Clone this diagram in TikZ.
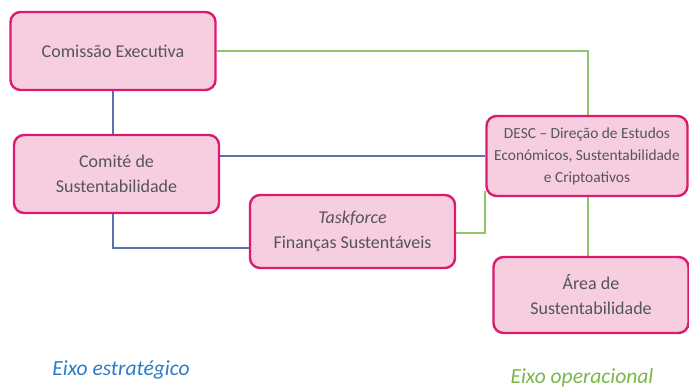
\documentclass[tikz,border=0pt]{standalone}
\usepackage{fontspec}
\setmainfont{Carlito}
\pgfdeclarelayer{bg}
\pgfsetlayers{bg,main}
\definecolor{boxfill}{HTML}{F6CEE0}
\definecolor{boxline}{HTML}{DC1A6E}
\definecolor{txt}{HTML}{555555}
\definecolor{blueline}{HTML}{5A74AE}
\definecolor{greenline}{HTML}{8CC66A}
\definecolor{bluetxt}{HTML}{2B7BC9}
\definecolor{greentxt}{HTML}{7AB648}
\tikzset{
  orgbox/.style={draw=boxline, fill=boxfill, line width=2.4pt, rounded corners=10pt,
    align=center, text=txt, font=\fontsize{18}{25}\selectfont, inner sep=2pt},
  bconn/.style={draw=blueline, line width=2pt},
  gconn/.style={draw=greenline, line width=2pt},
}
\begin{document}
\begin{tikzpicture}[x=1pt,y=-1pt]
\useasboundingbox (0,0) rectangle (689,390);
\node[orgbox, minimum width=205pt, minimum height=78pt] (ce) at (113,51) {Comissão Executiva};
\node[orgbox, minimum width=205pt, minimum height=78pt] (cs) at (116.5,174) {Comité de\\Sustentabilidade};
\node[orgbox, minimum width=205pt, minimum height=73pt] (tf) at (352.5,231.5) {\textit{Taskforce}\\Finanças Sustentáveis};
\node[orgbox, minimum width=201pt, minimum height=80pt, font=\fontsize{15.4}{22}\selectfont] (desc) at (587,156) {DESC -- Direção de Estudos\\Económicos, Sustentabilidade\\e Criptoativos};
\node[orgbox, minimum width=195pt, minimum height=76pt] (area) at (591,295) {Área de\\Sustentabilidade};
\begin{pgfonlayer}{bg}
\draw[bconn] (ce.south) -- (ce.south |- cs.north);
\draw[bconn] (ce.south |- cs.south) |- (tf.west |- 0,248) ;
\draw[bconn] (cs.east |- desc.west) -- (desc.west);
\draw[gconn] (ce.east) -| ([xshift=1pt]desc.north);
\draw[gconn] (tf.east |- 0,233) -| ([xshift=0pt,yshift=6pt]desc.south west);
\draw[gconn] ([xshift=1pt]desc.south) -- ([xshift=1pt]desc.south |- area.north);
\end{pgfonlayer}
\node[text=bluetxt, font=\fontsize{21.5}{24}\selectfont\itshape] (eixo1) at (121,370) {Eixo estratégico};
\node[text=greentxt, font=\fontsize{21.5}{24}\selectfont\itshape, inner sep=1pt] (eixo2) at (582,378) {Eixo operacional};
\end{tikzpicture}
\end{document}
